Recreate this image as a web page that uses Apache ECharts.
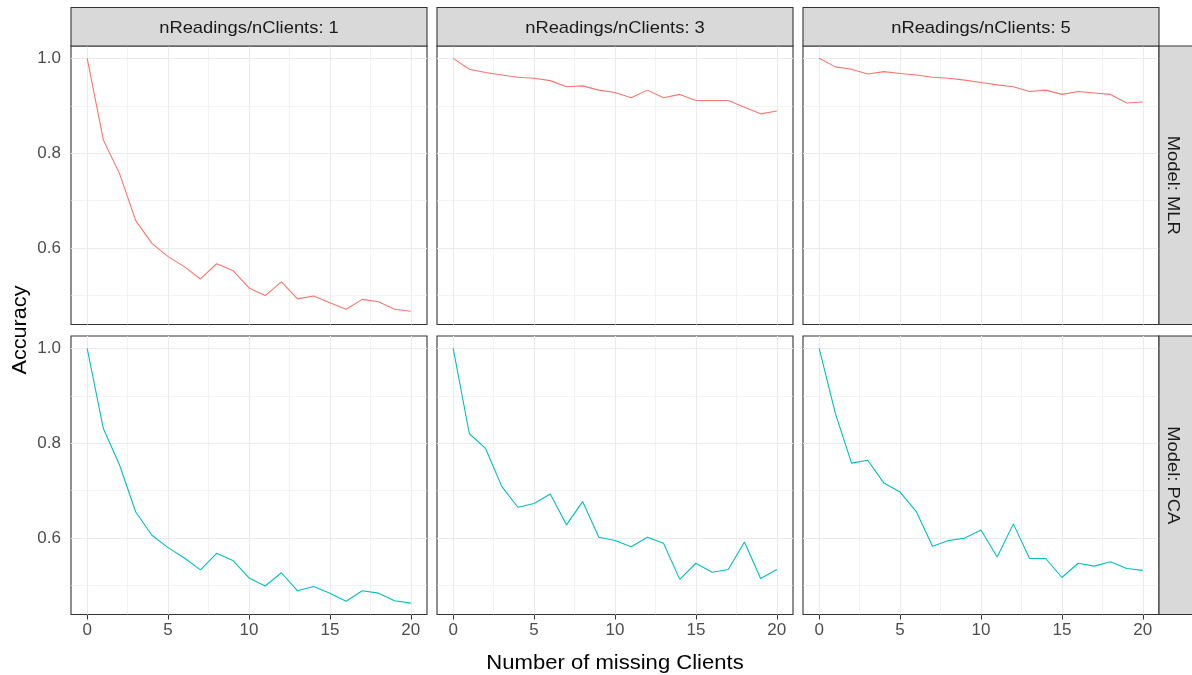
<!DOCTYPE html>
<html>
<head>
<meta charset="utf-8">
<script src="https://cdn.jsdelivr.net/npm/echarts@6/dist/echarts.min.js"></script>
<style>
html,body{margin:0;padding:0;background:#fff;}
#chart{width:1192px;height:675px;}
</style>
</head>
<body>
<div id="chart"></div>
<script>
// ---- data ----
var missingClients = [0,1,2,3,4,5,6,7,8,9,10,11,12,13,14,15,16,17,18,19,20];
var colLabels = ['nReadings/nClients: 1','nReadings/nClients: 3','nReadings/nClients: 5'];
var rowLabels = ['Model: MLR','Model: PCA'];
var mlr1 = [1.0,0.828,0.757,0.658,0.610,0.582,0.561,0.535,0.567,0.553,0.516,0.500,0.529,0.493,0.499,0.485,0.471,0.492,0.487,0.471,0.467];
var mlr3 = [1.0,0.977,0.970,0.965,0.960,0.958,0.953,0.940,0.942,0.933,0.928,0.917,0.933,0.917,0.924,0.911,0.911,0.911,0.897,0.883,0.889];
var mlr5 = [1.0,0.982,0.977,0.967,0.972,0.968,0.965,0.960,0.958,0.954,0.949,0.944,0.940,0.930,0.933,0.924,0.930,0.927,0.924,0.906,0.908];
var pca1 = [1.0,0.831,0.754,0.655,0.606,0.580,0.558,0.533,0.568,0.553,0.516,0.499,0.527,0.489,0.498,0.484,0.467,0.489,0.484,0.468,0.463];
var pca3 = [1.0,0.820,0.789,0.709,0.665,0.673,0.693,0.628,0.677,0.602,0.595,0.582,0.602,0.589,0.513,0.547,0.528,0.534,0.592,0.515,0.534];
var pca5 = [1.0,0.863,0.758,0.764,0.716,0.697,0.656,0.583,0.595,0.600,0.617,0.560,0.630,0.557,0.557,0.517,0.547,0.541,0.550,0.536,0.532];
var xTicks = [0,5,10,15,20];
var xMinorGrid = [2.5,7.5,12.5,17.5];
var yTicks = [0.6,0.8,1.0];
var yMinorGrid = [0.5,0.7,0.9];
var xTitle = 'Number of missing Clients';
var yTitle = 'Accuracy';

// ---- layout ----
var FONT = '"Liberation Sans", Arial, sans-serif';
var colLeft = [71, 437, 803], panelW = 356;
var rowTop = [46, 336], panelH = 278.5;
var xRange = [-1, 21], yRange = [0.439, 1.026];
var panels = [[mlr1, mlr3, mlr5],[pca1, pca3, pca5]];
var colors = ['#F8766D', '#00BFC4'];

var grids = [], xAxes = [], yAxes = [], series = [], graphics = [];
var idx = 0;
for (var r = 0; r < 2; r++) {
  for (var c = 0; c < 3; c++) {
    grids.push({left: colLeft[c], top: rowTop[r], width: panelW, height: panelH,
      show: true, borderColor: '#333333', borderWidth: 1.1, backgroundColor: '#ffffff', containLabel: false});
    var bottomRow = (r === 1), leftCol = (c === 0);
    xAxes.push({type: 'value', gridIndex: idx, min: xRange[0], max: xRange[1],
      axisLine: {show: false}, splitLine: {show: false},
      axisTick: {show: bottomRow, length: 5, lineStyle: {color: '#333333', width: 1}, customValues: xTicks},
      axisLabel: {show: bottomRow, margin: 7, color: '#4D4D4D', fontSize: 17, fontFamily: FONT, customValues: xTicks}
    });
    yAxes.push({type: 'value', gridIndex: idx, min: yRange[0], max: yRange[1],
      axisLine: {show: false}, splitLine: {show: false},
      axisTick: {show: leftCol, length: 6, lineStyle: {color: '#333333', width: 1}, customValues: yTicks},
      axisLabel: {show: leftCol, margin: 10, color: '#4D4D4D', fontSize: 17, fontFamily: FONT, customValues: yTicks,
        formatter: function (v) { return v.toFixed(1); }}
    });
    var gl = [];
    xTicks.forEach(function (v) { gl.push({xAxis: v, lineStyle: {width: 1.1}}); });
    xMinorGrid.forEach(function (v) { gl.push({xAxis: v, lineStyle: {width: 0.6}}); });
    yTicks.forEach(function (v) { gl.push({yAxis: v, lineStyle: {width: 1.1}}); });
    yMinorGrid.forEach(function (v) { gl.push({yAxis: v, lineStyle: {width: 0.6}}); });
    var vals = panels[r][c];
    series.push({type: 'line', xAxisIndex: idx, yAxisIndex: idx, z: 3,
      data: missingClients.map(function (x, i) { return [x, vals[i]]; }),
      showSymbol: false, symbol: 'none', animation: false,
      lineStyle: {color: colors[r], width: 1.1},
      markLine: {silent: true, symbol: 'none', animation: false, z: 1,
        label: {show: false}, emphasis: {disabled: true},
        lineStyle: {type: 'solid', color: '#EBEBEB'}, data: gl}
    });
    idx++;
  }
}

// strips (top)
for (var c2 = 0; c2 < 3; c2++) {
  graphics.push({type: 'rect', shape: {x: colLeft[c2], y: 7.5, width: panelW, height: 38.5},
    style: {fill: '#D9D9D9', stroke: '#333333', lineWidth: 1.1}, z: 10});
  graphics.push({type: 'text', x: colLeft[c2] + panelW / 2, y: 28, scaleX: 1.08,
    style: {text: colLabels[c2], align: 'center', verticalAlign: 'middle', fill: '#1A1A1A', font: '17px ' + FONT}, z: 11});
}
// strips (right)
for (var r2 = 0; r2 < 2; r2++) {
  graphics.push({type: 'rect', shape: {x: 1159, y: rowTop[r2], width: 40, height: panelH},
    style: {fill: '#D9D9D9', stroke: '#333333', lineWidth: 1.1}, z: 10});
  graphics.push({type: 'text', x: 1173, y: rowTop[r2] + panelH / 2, rotation: -Math.PI / 2, scaleX: 1.08,
    style: {text: rowLabels[r2], align: 'center', verticalAlign: 'middle', fill: '#1A1A1A', font: '17px ' + FONT}, z: 11});
}
// axis titles
graphics.push({type: 'text', x: 615, y: 663, scaleX: 1.05,
  style: {text: xTitle, align: 'center', verticalAlign: 'middle', fill: '#000000', font: '21px ' + FONT}});
graphics.push({type: 'text', x: 20, y: 330, rotation: Math.PI / 2, scaleX: 1.03,
  style: {text: yTitle, align: 'center', verticalAlign: 'middle', fill: '#000000', font: '21px ' + FONT}});

var chart = echarts.init(document.getElementById('chart'), null, {renderer: 'canvas'});
chart.setOption({
  animation: false,
  backgroundColor: '#ffffff',
  textStyle: {fontFamily: FONT},
  grid: grids, xAxis: xAxes, yAxis: yAxes, series: series, graphic: graphics
});
</script>
</body>
</html>
